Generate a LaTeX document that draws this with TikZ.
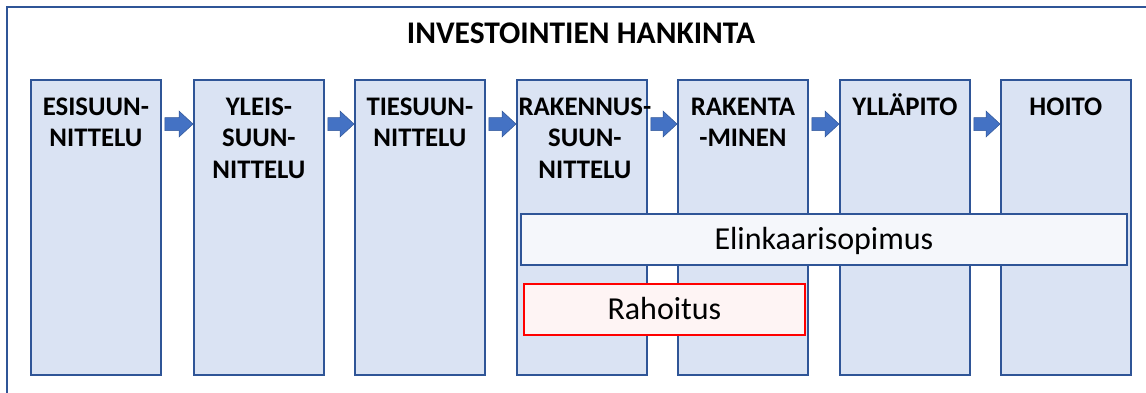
\documentclass[tikz,border=0pt]{standalone}
\usepackage{fontspec}
\setmainfont{Carlito}
\usetikzlibrary{calc}
\definecolor{boxfill}{HTML}{DAE3F3}
\definecolor{boxline}{HTML}{2F5597}
\definecolor{arrowfill}{HTML}{4472C4}
\definecolor{elifill}{HTML}{F5F7FB}
\definecolor{rahfill}{HTML}{FEF4F4}
\definecolor{rahline}{HTML}{FF0000}
\tikzset{
  stagebox/.style={draw=boxline, fill=boxfill, line width=1.8pt, minimum width=130pt, minimum height=295pt, inner sep=0pt, anchor=north west},
  stagelabel/.style={anchor=north, inner sep=0pt, align=center, font=\bfseries\fontsize{26.8}{31.5}\selectfont},
  bandbox/.style={line width=1.8pt, anchor=north west, inner sep=0pt, font=\fontsize{32}{37}\selectfont, text height=20.5pt, text depth=0pt},
  flowarrow/.style={fill=arrowfill, draw=boxline, line width=0.5pt},
  frameline/.style={draw=boxline, line width=1.8pt}
}
\newcommand{\stagearrow}[2]{%
  \path[flowarrow] ($(#1.north east)+(3,-38.5)$) -- ($(#2.north west)+(-14,-38.5)$) -- ($(#2.north west)+(-14,-32)$) -- ($(#2.north west)+(0,-45)$) -- ($(#2.north west)+(-14,-58)$) -- ($(#2.north west)+(-14,-51.5)$) -- ($(#1.north east)+(3,-51.5)$) -- cycle;}
\begin{document}
\begin{tikzpicture}[x=1pt,y=1pt]
\useasboundingbox (0,0) rectangle (1146,-392);
\path[frameline] (7,-400) -- (7,-7) -- (1150,-7);
\node[anchor=base, inner sep=0pt, font=\bfseries\fontsize{31.5}{36}\selectfont] (title) at (581,-43) {INVESTOINTIEN HANKINTA};
\node[stagebox] (s1) at (30,-79) {};
\node[stagebox] (s2) at (193,-79) {};
\node[stagebox] (s3) at (354,-79) {};
\node[stagebox] (s4) at (516,-79) {};
\node[stagebox] (s5) at (677,-79) {};
\node[stagebox] (s6) at (839,-79) {};
\node[stagebox] (s7) at (1000,-79) {};
\node[stagelabel] (t1) at ($(s1.north)+(0,-14)$) {\strut ESISUUN-\\NITTELU};
\node[stagelabel] (t2) at ($(s2.north)+(0,-14)$) {\strut YLEIS-\\SUUN-\\NITTELU};
\node[stagelabel] (t3) at ($(s3.north)+(0,-14)$) {\strut TIESUUN-\\NITTELU};
\node[stagelabel] (t4) at ($(s4.north)+(3,-14)$) {\strut RAKENNUS-\\SUUN-\\NITTELU};
\node[stagelabel] (t5) at ($(s5.north)+(0,-14)$) {\strut RAKENTA\\-MINEN};
\node[stagelabel] (t6) at ($(s6.north)+(0,-14)$) {\strut YLLÄPITO};
\node[stagelabel] (t7) at ($(s7.north)+(0,-14)$) {\strut HOITO};
\stagearrow{s1}{s2}
\stagearrow{s2}{s3}
\stagearrow{s3}{s4}
\stagearrow{s4}{s5}
\stagearrow{s5}{s6}
\stagearrow{s6}{s7}
\node[bandbox, draw=boxline, fill=elifill, minimum width=606pt, minimum height=51pt] (eli) at (520,-213) {Elinkaarisopimus};
\node[bandbox, draw=rahline, fill=rahfill, minimum width=281pt, minimum height=51pt] (rah) at (523,-283) {Rahoitus};
\end{tikzpicture}
\end{document}
